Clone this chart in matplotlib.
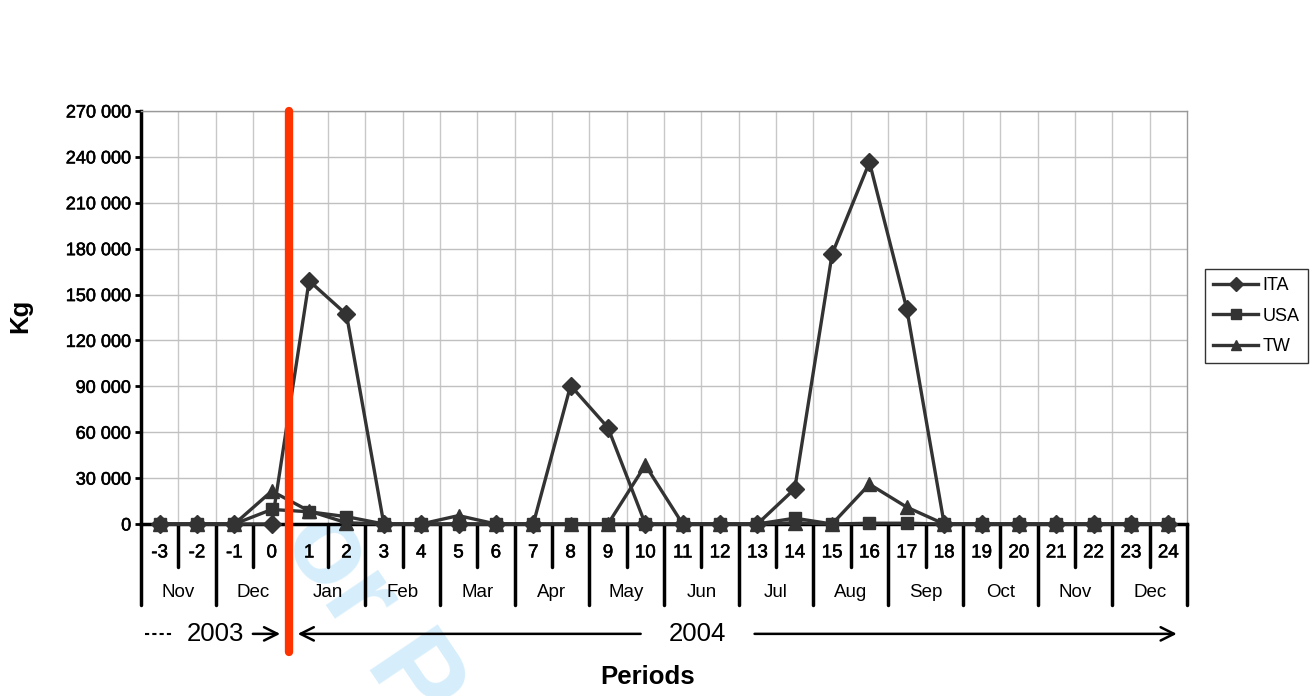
import matplotlib
matplotlib.use("Agg")
import matplotlib.pyplot as plt
import matplotlib.patheffects as pe
from matplotlib.ticker import FuncFormatter

plt.rcParams['font.family'] = ['Liberation Sans', 'DejaVu Sans']

# données
periods = list(range(-3, 25))
ita = [0, 0, 0, 0, 159000, 137000, 0, 0, 0, 0, 0, 90500, 63000, 0,
       0, 0, 0, 23000, 176500, 236500, 140500, 0, 0, 0, 0, 0, 0, 0]
usa = [0, 0, 0, 9500, 8000, 4800, 0, 0, 0, 0, 0, 0, 0, 0,
       0, 0, 0, 3800, 0, 500, 500, 0, 0, 0, 0, 0, 0, 0]
tw = [0, 0, 0, 21500, 8500, 800, 0, 0, 5500, 0, 0, 0, 0, 38500,
      0, 0, 0, 800, 0, 26000, 11000, 0, 0, 0, 0, 0, 0, 0]
months = ['Nov', 'Dec', 'Jan', 'Feb', 'Mar', 'Apr', 'May', 'Jun',
          'Jul', 'Aug', 'Sep', 'Oct', 'Nov', 'Dec']
yticks = list(range(0, 270001, 30000))

W, H = 1313, 696
fig = plt.figure(figsize=(W / 100, H / 100), dpi=100)
thick = [pe.withStroke(linewidth=0.4, foreground='black')]

# filigrane
fig.text(240 / W, 1 - 478 / H, 'For Peer Review', fontsize=85, fontweight='bold',
         color='#d6eefb', rotation=-56, rotation_mode='anchor',
         ha='left', va='baseline', zorder=-5)

ax = fig.add_axes([141 / W, 1 - 524 / H, 1046 / W, 413 / H])
ax.set_facecolor('white')

line_kw = dict(color='#333333', lw=2.4, clip_on=False, zorder=4)
ax.plot(periods, ita, marker='D', ms=9, label='ITA', **line_kw)
ax.plot(periods, usa, marker='s', ms=8.5, label='USA', **line_kw)
ax.plot(periods, tw, marker='^', ms=10, label='TW', **line_kw)

ax.set_xlim(-3.5, 24.5)
ax.set_ylim(0, 270000)
ax.set_yticks(yticks)
ax.yaxis.set_major_formatter(FuncFormatter(lambda v, p: f'{int(v):,}'.replace(',', ' ')))
ax.tick_params(axis='y', length=4, width=2, labelsize=13, pad=3)
for t in ax.get_yticklabels():
    t.set_path_effects(thick)
ax.set_xticks([])

# grille
for b in range(-3, 24):
    ax.axvline(b + 0.5, color='#c8c8c8', lw=1, zorder=1)
for v in yticks[1:]:
    ax.axhline(v, color='#c0c0c0', lw=1, zorder=1)

for s in ['top', 'right']:
    ax.spines[s].set_color('#999999')
    ax.spines[s].set_linewidth(1)
ax.spines['left'].set_linewidth(2.5)
ax.spines['bottom'].set_linewidth(2.5)
ax.spines['bottom'].set_zorder(3)

# axe des catégories
xt = ax.get_xaxis_transform()
for p in periods:
    ax.text(p, -0.07, str(p), transform=xt, ha='center', va='center',
            fontsize=13.5, path_effects=thick)
for k in range(len(periods) + 1):
    x = -3.5 + k
    y1 = -0.196 if k % 2 == 0 else -0.104
    ax.plot([x, x], [0, y1], transform=xt, color='black', lw=2.5,
            clip_on=False, solid_capstyle='round', zorder=3)
for j, m in enumerate(months):
    ax.text(-2.5 + 2 * j, -0.167, m, transform=xt, ha='center', va='center',
            fontsize=13.5)

# ligne rouge
ax.plot([0.45, 0.45], [1.0, -0.31], transform=xt, color='#ff3300', lw=6,
        solid_capstyle='round', clip_on=False, zorder=6)

# années
ya = -0.266
arrow = dict(arrowstyle='->', lw=1.8, color='black', mutation_scale=24)
ax.plot([-3.39, -2.67], [ya, ya], transform=xt, color='black', lw=1.5,
        ls=(0, (2, 1.5)), clip_on=False)
ax.text(-1.52, ya, '2003', transform=xt, ha='center', va='center', fontsize=18.5)
ax.annotate('', xy=(0.3, ya), xytext=(-0.58, ya), xycoords=xt, textcoords=xt,
            arrowprops=arrow)
ax.annotate('', xy=(0.62, ya), xytext=(9.95, ya), xycoords=xt, textcoords=xt,
            arrowprops=arrow)
ax.text(11.4, ya, '2004', transform=xt, ha='center', va='center', fontsize=18.5)
ax.annotate('', xy=(24.3, ya), xytext=(12.85, ya), xycoords=xt, textcoords=xt,
            arrowprops=arrow)

fig.text(648 / W, 1 - 677 / H, 'Periods', ha='center', va='center',
         fontsize=18.5, fontweight='bold')
fig.text(20 / W, 1 - 316 / H, 'Kg', ha='center', va='center', fontsize=18.5,
         fontweight='bold', rotation=90)

leg = ax.legend(loc='center left', bbox_to_anchor=(1205 / W, 1 - 316 / H),
                bbox_transform=fig.transFigure, frameon=True, fancybox=False,
                fontsize=13, handlelength=2.5, borderpad=0.45, labelspacing=0.75,
                handletextpad=0.25, borderaxespad=0)
leg.get_frame().set_edgecolor('black')
leg.get_frame().set_linewidth(1)
for h in leg.legend_handles:
    h.set_markersize(7)

fig.savefig('out.png', dpi=100)
